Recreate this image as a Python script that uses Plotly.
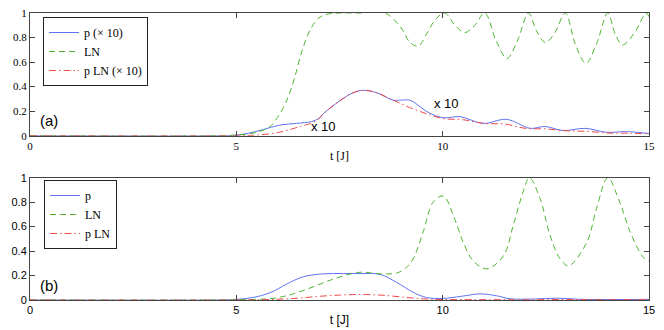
import plotly.graph_objects as go

# ---- panel (a) data ----
t_ln_a = [0, 4.5, 5.0, 5.4, 5.8, 6.0, 6.2, 6.4, 6.6, 6.8, 7.0, 7.2, 7.5, 8.0, 8.6,
          8.97, 9.21, 9.41, 9.61, 9.81, 10.05, 10.3, 10.53, 10.78, 11.02, 11.3, 11.56,
          11.82, 12.08, 12.28, 12.49, 12.72, 12.97, 13.22, 13.47, 13.73, 14.0, 14.18,
          14.36, 14.65, 14.93, 15.0]
ln_a = [0, 0, 0.005, 0.02, 0.07, 0.15, 0.27, 0.46, 0.7, 0.87, 0.96, 0.99, 1.0, 1.0, 1.0,
        0.89, 0.76, 0.73, 0.83, 0.94, 1.0, 0.9, 0.84, 0.9, 1.0, 0.77, 0.63,
        0.78, 1.0, 0.85, 0.76, 0.84, 1.0, 0.74, 0.59, 0.75, 1.0, 0.83,
        0.74, 0.84, 1.0, 0.97]

t_p_a = [0, 4.6, 5.0, 5.3, 5.65, 6.06, 6.46, 6.82, 7.0, 7.11, 7.51, 7.83, 8.08, 8.4, 8.8,
         9.0, 9.2, 9.4, 9.6, 9.85, 10.05, 10.42, 10.98, 11.55, 12.12, 12.48, 12.92,
         13.45, 13.97, 14.46, 15.0]
p_a = [0, 0, 0.005, 0.02, 0.05, 0.087, 0.10, 0.115, 0.14, 0.18, 0.285, 0.35, 0.37, 0.35, 0.29,
       0.29, 0.29, 0.25, 0.2, 0.16, 0.145, 0.155, 0.10, 0.133, 0.06, 0.075, 0.042,
       0.06, 0.028, 0.033, 0.018]

t_pln_a = [0, 5.0, 5.5, 6.0, 6.3, 6.6, 6.8, 7.0, 7.11, 7.51, 7.83, 8.08, 8.4, 8.8, 9.2,
           9.6, 10.0, 10.5, 11.0, 11.5, 12.0, 12.5, 13.0, 13.5, 14.0, 14.5, 15.0]
pln_a = [0, 0, 0.005, 0.025, 0.05, 0.08, 0.10, 0.14, 0.18, 0.285, 0.35, 0.37, 0.35, 0.29, 0.23,
         0.18, 0.14, 0.13, 0.10, 0.095, 0.06, 0.055, 0.04, 0.035, 0.022, 0.02, 0.015]

# ---- panel (b) data ----
t_p_b = [0, 4.6, 5.0, 5.4, 5.82, 6.22, 6.62, 7.11, 7.6, 8.0, 8.48, 8.88, 9.29, 9.61,
         10.01, 10.45, 10.9, 11.3, 11.63, 12.2, 12.76, 13.3, 14.0, 15.0]
p_b = [0, 0, 0.005, 0.02, 0.06, 0.13, 0.19, 0.214, 0.216, 0.216, 0.21, 0.145, 0.062, 0.02,
       0.013, 0.03, 0.05, 0.035, 0.01, 0.008, 0.015, 0.006, 0.004, 0.005]

t_ln_b = [0, 4.6, 5.0, 5.4, 5.82, 6.22, 6.62, 7.03, 7.43, 8.0, 8.48, 8.88, 9.1, 9.29, 9.53,
          9.77, 10.02, 10.26, 10.5, 10.74, 11.07, 11.47, 11.71, 11.95, 12.1, 12.36, 12.6,
          12.84, 13.05, 13.49, 13.73, 14.0, 14.29, 14.54, 14.86, 15.0]
ln_b = [0, 0, 0.002, 0.005, 0.01, 0.035, 0.077, 0.13, 0.18, 0.227, 0.214, 0.22, 0.26, 0.34, 0.56,
        0.80, 0.85, 0.69, 0.47, 0.32, 0.255, 0.36, 0.61, 0.885, 1.0, 0.83, 0.53,
        0.34, 0.28, 0.47, 0.75, 1.0, 0.80, 0.56, 0.35, 0.32]

t_pln_b = [0, 5.0, 5.5, 6.0, 6.5, 7.0, 7.5, 8.0, 8.5, 9.0, 9.5, 10.0, 11.0, 12.0, 13.0, 14.0, 15.0]
pln_b = [0, 0, 0.002, 0.006, 0.015, 0.03, 0.04, 0.045, 0.04, 0.025, 0.01, 0.004, 0.003, 0.002,
         0.004, 0.002, 0.003]

BLUE = "#5f73f2"
GREEN = "#4fb52f"
RED = "#ef4a4a"
SERIF = "Liberation Serif"
SANS = "Liberation Sans"

fig = go.Figure()

# panel (a)
fig.add_trace(go.Scatter(x=t_p_a, y=p_a, name="p (\u00d7 10)", mode="lines", line_shape="spline",
                         line=dict(color=BLUE, width=1), xaxis="x", yaxis="y", legend="legend"))
fig.add_trace(go.Scatter(x=t_ln_a, y=ln_a, name="LN", mode="lines", line_shape="spline",
                         line=dict(color=GREEN, width=1, dash="6px,4px"), xaxis="x", yaxis="y",
                         legend="legend"))
fig.add_trace(go.Scatter(x=t_pln_a, y=pln_a, name="p LN (\u00d7 10)", mode="lines", line_shape="spline",
                         line=dict(color=RED, width=1, dash="7px,3px,1.5px,3px"), xaxis="x", yaxis="y",
                         legend="legend"))

# panel (b)
fig.add_trace(go.Scatter(x=t_p_b, y=p_b, name="p", mode="lines", line_shape="spline",
                         line=dict(color=BLUE, width=1), xaxis="x2", yaxis="y2", legend="legend2"))
fig.add_trace(go.Scatter(x=t_ln_b, y=ln_b, name="LN", mode="lines", line_shape="spline",
                         line=dict(color=GREEN, width=1, dash="6px,4px"), xaxis="x2", yaxis="y2",
                         legend="legend2"))
fig.add_trace(go.Scatter(x=t_pln_b, y=pln_b, name="p LN", mode="lines", line_shape="spline",
                         line=dict(color=RED, width=1, dash="7px,3px,1.5px,3px"), xaxis="x2", yaxis="y2",
                         legend="legend2"))

ax_common = dict(range=[0, 15], tickvals=[0, 5, 10, 15], ticks="inside", ticklen=5,
                 showline=True, linecolor="#444", linewidth=1, mirror="allticks",
                 showgrid=False, zeroline=False, tickcolor="#444", ticklabeloverflow="allow")
ay_common = dict(range=[0, 1], tickvals=[0, 0.2, 0.4, 0.6, 0.8, 1], ticks="inside", ticklen=5,
                 showline=True, linecolor="#444", linewidth=1, mirror="allticks",
                 showgrid=False, zeroline=False, tickcolor="#444", ticklabeloverflow="allow")

legend_box = dict(bgcolor="white", bordercolor="#222", borderwidth=1,
                  font=dict(family=SERIF, size=12, color="black"),
                  xanchor="left", yanchor="top", tracegroupgap=0)

# page body has an 8px margin, so the figure is a bit smaller and shifted back
fig.update_layout(
    width=656, height=322,
    margin=dict(l=22, r=15, t=5, b=30, autoexpand=False),
    paper_bgcolor="white", plot_bgcolor="white",
    xaxis=dict(ax_common, domain=[0, 1], anchor="y",
               tickfont=dict(family=SERIF, size=11, color="black"),
               title=dict(text="t [J]", standoff=0, font=dict(family=SERIF, size=12, color="black"))),
    yaxis=dict(ay_common, domain=[0.5725, 1], anchor="x",
               tickfont=dict(family=SERIF, size=11, color="black")),
    xaxis2=dict(ax_common, domain=[0, 1], anchor="y2",
                tickfont=dict(family=SANS, size=11, color="black"),
                title=dict(text="t [J]", standoff=0, font=dict(family=SANS, size=12, color="black"))),
    yaxis2=dict(ay_common, domain=[0, 0.426], anchor="x2",
                tickfont=dict(family=SANS, size=11, color="black")),
    legend=dict(legend_box, x=(43 - 30) / 619, y=(300 - 17) / 287),
    legend2=dict(legend_box, x=(44 - 30) / 619, y=(300 - 180) / 287),
    annotations=[
        dict(text="(a)", x=0.46, y=0.12, xref="x", yref="y", showarrow=False,
             font=dict(family=SANS, size=15, color="black")),
        dict(text="x 10", x=7.12, y=0.079, xref="x", yref="y", showarrow=False,
             font=dict(family=SANS, size=13, color="black")),
        dict(text="x 10", x=10.1, y=0.263, xref="x", yref="y", showarrow=False,
             font=dict(family=SANS, size=13, color="black")),
        dict(text="(b)", x=0.46, y=0.118, xref="x2", yref="y2", showarrow=False,
             font=dict(family=SANS, size=15, color="black")),
    ],
)

fig.write_html("out.html")
